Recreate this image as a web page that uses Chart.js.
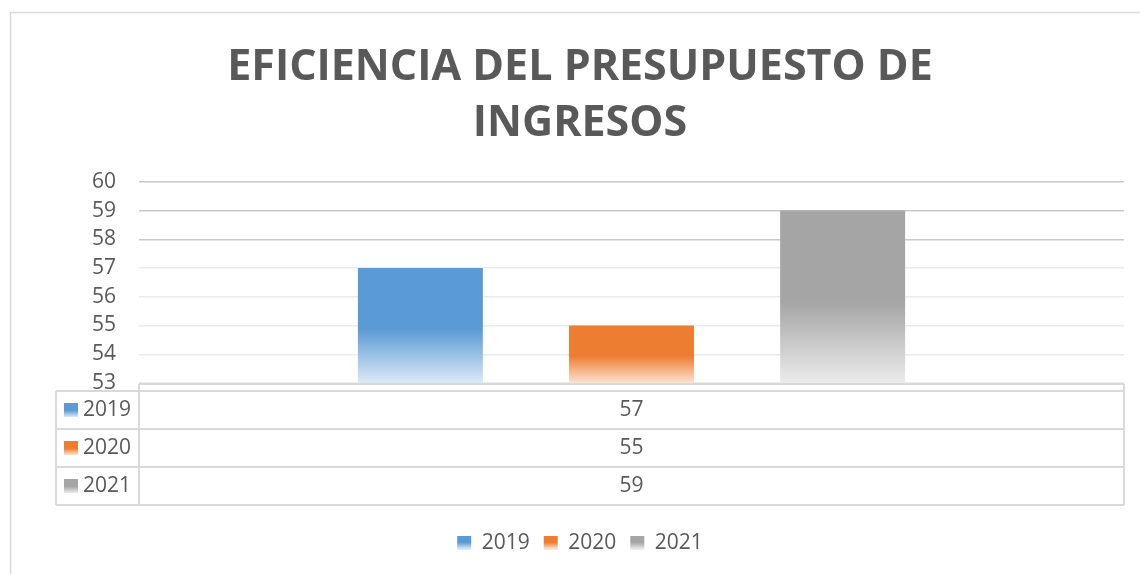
<!DOCTYPE html>
<html>
<head>
<meta charset="utf-8">
<script src="https://cdn.jsdelivr.net/npm/chart.js@4"></script>
<style>
  html, body { margin: 0; padding: 0; background: #fff; }
  #wrap { width: 1140px; height: 574px; }
</style>
</head>
<body>
<div id="wrap"><canvas id="chart" width="1140" height="574"></canvas></div>
<script>
const categories = [""];
const seriesNames = ["2019", "2020", "2021"];
const values2019 = [57];
const values2020 = [55];
const values2021 = [59];
const yTicks = [53, 54, 55, 56, 57, 58, 59, 60];

const solid = ["#5b9bd5", "#ed7d31", "#a5a5a5"];
const faded = ["#dde9f6", "#fce3d2", "#ececec"];
const textColor = "#595959";
const lineColor = "#d9d9d9";
const font = "'Open Sans', sans-serif";

function fadeFill(ctx, i, top, bottom) {
  const g = ctx.createLinearGradient(0, top, 0, bottom);
  g.addColorStop(0, solid[i]);
  g.addColorStop(0.53, solid[i]);
  g.addColorStop(1, faded[i]);
  return g;
}

function barFill(context) {
  const chart = context.chart;
  const i = context.datasetIndex;
  if (!chart.chartArea || context.raw === undefined) return solid[i];
  const y = chart.scales.y;
  return fadeFill(chart.ctx, i, y.getPixelForValue(context.raw), y.getPixelForValue(y.min));
}

// white background + outer frame
const framePlugin = {
  id: "frame",
  beforeDraw(chart) {
    const ctx = chart.ctx;
    ctx.save();
    ctx.fillStyle = "#fff";
    ctx.fillRect(0, 0, chart.width, chart.height);
    ctx.strokeStyle = lineColor;
    ctx.lineWidth = 1.5;
    ctx.strokeRect(10.5, 12.5, 1300, 800);
    ctx.restore();
  }
};

// Excel style data table under the plot
const tablePlugin = {
  id: "dataTable",
  afterDraw(chart) {
    const ctx = chart.ctx;
    const area = chart.chartArea;
    const left = 56, mid = area.left, right = area.right;
    const headTop = area.bottom + 1, top = headTop + 7, rowH = 38;
    const rows = [values2019, values2020, values2021];
    const bottom = top + rowH * rows.length;

    ctx.save();
    ctx.strokeStyle = lineColor;
    ctx.lineWidth = 2;
    ctx.beginPath();
    ctx.moveTo(mid, headTop); ctx.lineTo(right, headTop);
    for (let r = 0; r <= rows.length; r++) {
      ctx.moveTo(left, top + r * rowH); ctx.lineTo(right, top + r * rowH);
    }
    ctx.moveTo(left, top); ctx.lineTo(left, bottom);
    ctx.moveTo(mid, headTop); ctx.lineTo(mid, bottom);
    ctx.moveTo(right, headTop); ctx.lineTo(right, bottom);
    ctx.stroke();

    ctx.font = "21px " + font;
    ctx.textBaseline = "middle";
    rows.forEach((vals, r) => {
      const cy = top + r * rowH + rowH / 2;
      ctx.fillStyle = fadeFill(ctx, r, cy - 7, cy + 7);
      ctx.fillRect(64, cy - 7, 14, 14);
      ctx.fillStyle = textColor;
      ctx.textAlign = "left";
      ctx.fillText(seriesNames[r], 83, cy);
      ctx.textAlign = "center";
      ctx.fillText(String(vals[0]), (mid + right) / 2, cy);
    });
    ctx.restore();
  }
};

new Chart(document.getElementById("chart"), {
  type: "bar",
  data: {
    labels: categories,
    datasets: [
      { label: seriesNames[0], data: values2019 },
      { label: seriesNames[1], data: values2020 },
      { label: seriesNames[2], data: values2021 }
    ].map(d => Object.assign(d, {
      backgroundColor: barFill,
      borderWidth: 0,
      categoryPercentage: 0.643,
      barPercentage: 0.592
    }))
  },
  options: {
    responsive: false,
    animation: false,
    layout: { padding: { top: 0, left: 36, right: 16, bottom: 10.5 } },
    scales: {
      x: {
        grid: { display: false },
        border: { display: false },
        ticks: { display: false },
        afterFit: s => { s.height = 135.5; }
      },
      y: {
        min: 53,
        max: 60,
        afterFit: s => { s.width = 103; },
        afterBuildTicks: s => { s.ticks = yTicks.map(v => ({ value: v })); },
        border: { display: false },
        grid: {
          drawTicks: false,
          lineWidth: 1.5,
          color: c => (c.tick && c.tick.value >= 58 ? "#c9c9c9" : "#ebebeb")
        },
        ticks: { autoSkip: false, padding: 23, color: textColor, font: { family: font, size: 21 } }
      }
    },
    plugins: {
      tooltip: { enabled: false },
      title: {
        display: true,
        text: ["EFICIENCIA DEL PRESUPUESTO DE", "INGRESOS"],
        color: textColor,
        font: { family: font, size: 43, weight: "bold", lineHeight: 1.3 },
        padding: { top: 39.5, bottom: 30.5 }
      },
      legend: {
        position: "bottom",
        labels: {
          boxWidth: 14,
          boxHeight: 14,
          padding: 14,
          color: textColor,
          font: { family: font, size: 21 },
          generateLabels: chart => seriesNames.map((name, i) => ({
            text: name,
            fillStyle: fadeFill(chart.ctx, i, 535, 549),
            strokeStyle: "rgba(0,0,0,0)",
            lineWidth: 0,
            fontColor: textColor,
            datasetIndex: i
          }))
        }
      }
    }
  },
  plugins: [framePlugin, tablePlugin]
});
</script>
</body>
</html>
